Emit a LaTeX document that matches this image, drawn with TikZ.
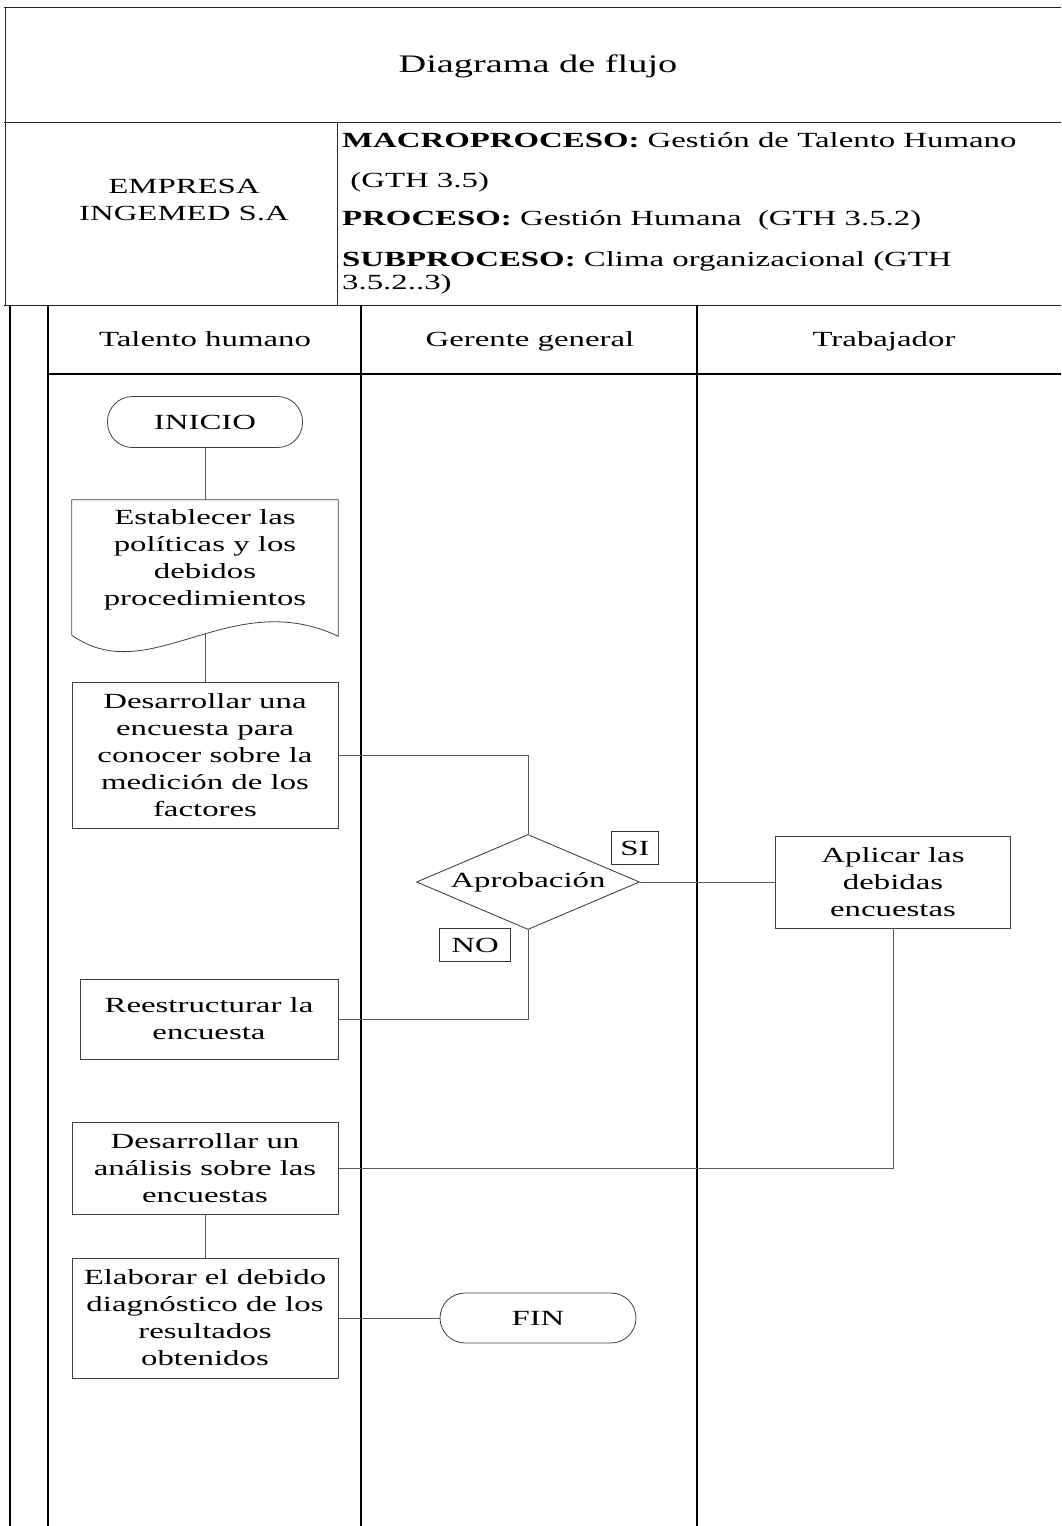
\documentclass[tikz,border=0pt]{standalone}
\usepackage{fontspec}
\setmainfont{Liberation Serif}[FakeStretch=1.52]
\usetikzlibrary{positioning,shapes.geometric,calc}

\begin{document}
\begin{tikzpicture}[
  x=1pt, y=-1pt,
  font=\fontsize{21.6}{27}\selectfont,
  frame/.style={line width=0.9pt,black!85},
  lane/.style={line width=2pt,black},
  lanehead/.style={anchor=base,align=center},
  meta/.style={anchor=base west,inner sep=0pt},
  proc/.style={draw=black!75,line width=0.8pt,align=center,inner sep=2pt,
               minimum width=266pt},
  term/.style={draw=black!75,line width=0.8pt,rounded corners=25pt,
               minimum width=195pt,minimum height=51pt},
  decision/.style={draw=black!80,line width=0.8pt,diamond,aspect=2.35,inner sep=0pt,
                   minimum width=223pt,minimum height=95pt},
  tag/.style={draw=black!80,line width=0.8pt,minimum height=33pt,inner sep=0pt},
  link/.style={draw=black!65,line width=0.8pt},
]
\useasboundingbox (0,0) rectangle (1061,1526);

% ---- Header frame -----------------------------------------------------------
\draw[frame] (4,7) -- (1061,7);
\draw[frame] (5,7) -- (5,305);
\draw[frame] (4,122) -- (1061,122);
\draw[frame] (4,305) -- (1061,305);
\draw[frame] (337,122) -- (337,305);

\node (title) at (538,66) {\fontsize{25.2}{30}\selectfont Diagrama de flujo};
\node[align=center] (emp) at (184,200) {EMPRESA\\INGEMED S.A};
\node[meta] (macro) at (342,147) {\textbf{MACROPROCESO:} Gestión de Talento Humano};
\node[meta] (gth)   at (342,187) {\ (GTH 3.5)};
\node[meta] (proc)  at (342,225) {\textbf{PROCESO:} Gestión Humana\ \ (GTH 3.5.2)};
\node[meta] (sub)   at (342,266) {\textbf{SUBPROCESO:} Clima organizacional (GTH};
\node[meta] (subb)  at (342,289) {3.5.2..3)};

% ---- Swimlanes --------------------------------------------------------------
\foreach \x in {10,48,361,697}{
  \draw[lane] (\x,305) -- (\x,1526);
}
\draw[line width=1.2pt] (48,374) -- (1061,374);

\node[lanehead] (hTH) at (205,346) {Talento humano};
\node[lanehead] (hGG) at (530,346) {Gerente general};
\node[lanehead] (hTR) at (884,346) {Trabajador};

% ---- Talento humano ---------------------------------------------------------
\node[term] (ini) at (205,422) {INICIO};

% document symbol: plain node, outline drawn with a wavy bottom
\node[align=center,inner sep=2pt,minimum width=266pt,minimum height=120pt]
     (pol) at (205,560) {Establecer las\\políticas y los\\debidos\\procedimientos};
\draw[draw=black!75,line width=0.8pt]
  ($(pol.south west)+(0,15)$) -- (pol.north west) -- (pol.north east)
  -- ($(pol.south east)+(0,16)$)
  .. controls ($(pol.south west)+(158,-35)$) and ($(pol.south west)+(78,70)$)
  .. ($(pol.south west)+(0,15)$);
\coordinate (polb) at ($(pol.south)+(0,14)$);

\node[proc,minimum height=146pt] (enc) at (205,755)
     {Desarrollar una\\encuesta para\\conocer sobre la\\medición de los\\factores};
\node[proc,minimum width=258pt,minimum height=80pt] (res) at (209,1019)
     {Reestructurar la\\encuesta};
\node[proc,minimum height=92pt] (ana) at (205,1168)
     {Desarrollar un\\análisis sobre las\\encuestas};
\node[proc,minimum height=120pt] (dia) at (205,1318)
     {Elaborar el debido\\diagnóstico de los\\resultados\\obtenidos};

% ---- Gerente general --------------------------------------------------------
\node[decision] (apr) at (528,882) {Aprobación};
\node[tag,minimum width=47pt] (si) at (635,848) {SI};
\node[tag,minimum width=71pt] (no) at (475,945) {NO};
\node[term,minimum width=196pt,minimum height=50pt] (fin) at (538,1318) {FIN};

% ---- Trabajador -------------------------------------------------------------
\node[proc,minimum width=235pt,minimum height=92pt] (apl) at (893,882)
     {Aplicar las\\debidas\\encuestas};

% ---- Connectors -------------------------------------------------------------
\draw[link] (ini.south) -- (pol.north);
\draw[link] (polb) -- (enc.north);
\draw[link] (enc.east) -| (apr.north);
\draw[link] (apr.east) -- (apl.west);
\draw[link] (apr.south) |- (res.east);
\draw[link] (apl.south) |- (ana.east);
\draw[link] (ana.south) -- (dia.north);
\draw[link] (dia.east) -- (fin.west);

\end{tikzpicture}
\end{document}
